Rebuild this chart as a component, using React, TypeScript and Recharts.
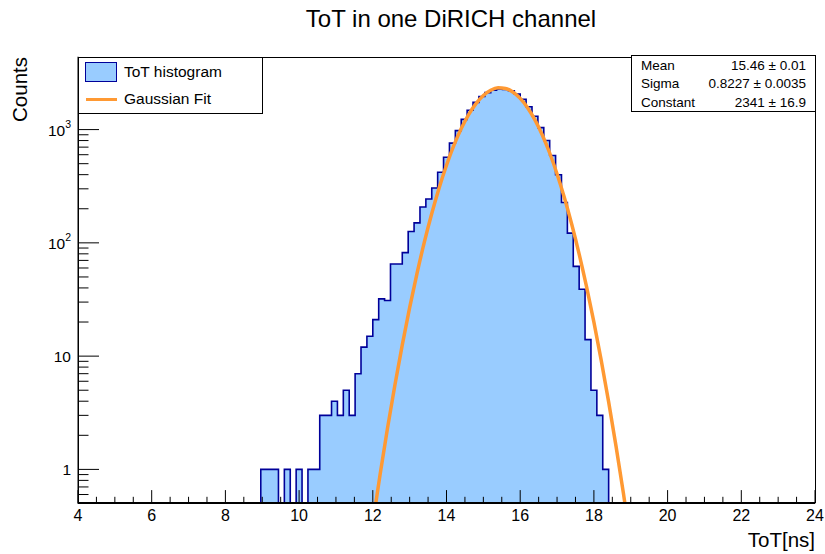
import React, { useLayoutEffect } from 'react';
import { ComposedChart, Area, Line, XAxis, YAxis } from 'recharts';

// ---- data ----
const binStart = 8.96;
const binWidth = 0.16;
const counts = [
  1, 1, 1, 0, 1, 0, 1, 0, 1, 1,
  3, 3, 4, 3, 5, 3, 7, 12, 15, 21,
  32, 31, 65, 65, 82, 126, 150, 207, 244, 305,
  420, 570, 760, 980, 1230, 1480, 1740, 1960, 2120, 2230,
  2280, 2260, 2200, 2060, 1850, 1590, 1310, 1040, 800, 590,
  399, 227, 122, 62, 39, 14, 5, 3, 1,
];

const fitX = [
  12.0, 12.2, 12.4, 12.6, 12.8, 13.0, 13.2, 13.4, 13.6, 13.8,
  14.0, 14.2, 14.4, 14.6, 14.8, 15.0, 15.2, 15.4, 15.6, 15.8,
  16.0, 16.2, 16.4, 16.6, 16.8, 17.0, 17.2, 17.4, 17.6, 17.8,
  18.0, 18.2, 18.4, 18.6, 18.8, 19.0,
];
const fitY = [
  0.337, 0.911, 2.32, 5.56, 12.57, 26.8, 53.8, 101.9, 181.7, 305.7,
  484.8, 724.5, 1020.7, 1355.5, 1697, 2002, 2227, 2335, 2307, 2149,
  1887, 1562, 1219, 896.3, 621.3, 405.9, 250.0, 145.1, 79.5, 41.0,
  19.93, 9.14, 3.95, 1.606, 0.618, 0.223,
];

const xDomain: [number, number] = [4, 24];
const yDomain: [number, number] = [0.5, 4400];
const xMajorTicks = [4, 6, 8, 10, 12, 14, 16, 18, 20, 22, 24];
const yDecadeTicks = [1, 10, 100, 1000];
const yDecadeLabels: Record<number, [string, string]> = {
  1: ['1', ''],
  10: ['10', ''],
  100: ['10', '2'],
  1000: ['10', '3'],
};
const titleText = 'ToT in one DiRICH channel';
const xTitle = 'ToT[ns]';
const yTitle = 'Counts';
const legendItems = ['ToT histogram', 'Gaussian Fit'];
const statRows: [string, string][] = [
  ['Mean', '15.46 \u00b1 0.01'],
  ['Sigma', '0.8227 \u00b1 0.0035'],
  ['Constant', '2341 \u00b1 16.9'],
];

// ---- derived tables ----
const floor = yDomain[0];
const histData: { x: number; y: number }[] = [{ x: xDomain[0], y: floor }];
counts.forEach((c, i) => {
  histData.push({ x: +(binStart + i * binWidth).toFixed(2), y: c > 0 ? c : floor });
});
histData.push({ x: +(binStart + counts.length * binWidth).toFixed(2), y: floor });
histData.push({ x: xDomain[1], y: floor });

const fitData = fitX.map((x, i) => ({ x, y: fitY[i] }));

const xTicks: number[] = [];
for (let v = xDomain[0]; v <= xDomain[1] + 1e-9; v += 0.5) xTicks.push(+v.toFixed(2));
const yTicks: number[] = [0.6, 0.7, 0.8, 0.9];
[1, 10, 100, 1000].forEach((d) => {
  for (let m = 1; m <= 9; m++) {
    const v = d * m;
    if (v <= yDomain[1]) yTicks.push(v);
  }
});

const FONT = '"Liberation Sans", Arial, Helvetica, sans-serif';
const HIST_FILL = '#99ccff';
const HIST_LINE = '#000099';
const FIT_COLOR = '#ff9933';

const W = 817;
const H = 546;
const PLOT_L = 70;
const PLOT_T = 48.7;
const PLOT_W = 737;
const PLOT_H = 446.8;
const XAXIS_H = 30;

const XTick = (props: any) => {
  const { x, y, payload } = props;
  const v = payload.value as number;
  const major = xMajorTicks.includes(v);
  const len = major ? 13.4 : 6.7;
  return (
    <g>
      <line x1={x} x2={x} y1={y} y2={y - len} stroke="#000" strokeWidth={1} />
      {major && (
        <text x={x} y={y + 17} textAnchor="middle" fontSize={16} fontFamily={FONT} fill="#000">
          {v}
        </text>
      )}
    </g>
  );
};

const YTick = (props: any) => {
  const { x, y, payload } = props;
  const v = payload.value as number;
  const major = yDecadeTicks.includes(v);
  const len = major ? 21 : 10.5;
  const lab = yDecadeLabels[v];
  return (
    <g>
      <line x1={x} x2={x + len} y1={y} y2={y} stroke="#000" strokeWidth={1} />
      {major && lab && (
        <text x={x - 7} y={y + 6} textAnchor="end" fontSize={15.5} fontFamily={FONT} fill="#000">
          {lab[0]}
          {lab[1] && (
            <tspan fontSize={10.5} dy={-8}>
              {lab[1]}
            </tspan>
          )}
        </text>
      )}
    </g>
  );
};

export default function App() {
  useLayoutEffect(() => {
    document.body.style.marginRight = '0px';
    document.body.style.marginBottom = '0px';
    const root = document.getElementById('root');
    if (root) {
      root.style.width = W + 'px';
      root.style.height = H + 'px';
    }
  }, []);

  return (
    <div
      style={{
        position: 'relative',
        width: W,
        height: H,
        fontFamily: FONT,
        background: '#fff',
        overflow: 'visible',
      }}
    >
      <ComposedChart
        width={W}
        height={H}
        margin={{
          top: PLOT_T,
          right: W - PLOT_L - PLOT_W,
          bottom: H - PLOT_T - PLOT_H - XAXIS_H,
          left: 0,
        }}
        style={{ overflow: 'visible' }}
      >
        <XAxis
          dataKey="x"
          type="number"
          domain={xDomain}
          allowDataOverflow
          ticks={xTicks}
          interval={0}
          tick={XTick}
          tickLine={false}
          tickSize={0}
          tickMargin={0}
          height={XAXIS_H}
          axisLine={{ stroke: '#000' }}
        />
        <YAxis
          type="number"
          scale="log"
          domain={yDomain}
          allowDataOverflow
          ticks={yTicks}
          interval={0}
          tick={YTick}
          tickLine={false}
          tickSize={0}
          tickMargin={0}
          width={PLOT_L}
          axisLine={{ stroke: '#000' }}
        />
        <Area
          data={histData}
          dataKey="y"
          type="stepAfter"
          stroke={HIST_LINE}
          strokeWidth={1.6}
          fill={HIST_FILL}
          fillOpacity={1}
          dot={false}
          activeDot={false}
          isAnimationActive={false}
        />
        <Line
          data={fitData}
          dataKey="y"
          type="monotone"
          stroke={FIT_COLOR}
          strokeWidth={3.5}
          dot={false}
          activeDot={false}
          isAnimationActive={false}
        />
      </ComposedChart>

      {/* plot frame */}
      <div
        style={{
          position: 'absolute',
          left: PLOT_L,
          top: PLOT_T,
          width: PLOT_W + 1,
          height: PLOT_H,
          border: '1px solid #000',
          boxSizing: 'border-box',
          pointerEvents: 'none',
        }}
      />

      {/* title */}
      <div
        style={{
          position: 'absolute',
          left: 143,
          width: 600,
          top: -3,
          textAlign: 'center',
          fontSize: 24,
          lineHeight: '28px',
          color: '#000',
          whiteSpace: 'nowrap',
        }}
      >
        {titleText}
      </div>

      {/* x title */}
      <div
        style={{
          position: 'absolute',
          right: W - (PLOT_L + PLOT_W),
          top: 520,
          fontSize: 20.5,
          lineHeight: '24px',
          whiteSpace: 'nowrap',
        }}
      >
        {xTitle}
      </div>

      {/* y title */}
      <div
        style={{
          position: 'absolute',
          left: 0,
          top: PLOT_T,
          width: 24,
          height: 68,
        }}
      >
        <div
          style={{
            position: 'absolute',
            right: 0,
            top: 0,
            transformOrigin: 'right top',
            transform: 'translate(-24px, 0) rotate(-90deg)',
            fontSize: 20.5,
            lineHeight: '24px',
            whiteSpace: 'nowrap',
          }}
        >
          {yTitle}
        </div>
      </div>

      {/* legend */}
      <div
        style={{
          position: 'absolute',
          left: PLOT_L,
          top: PLOT_T,
          width: 185,
          height: 57,
          border: '1px solid #000',
          boxSizing: 'border-box',
          background: '#fff',
          fontSize: 15.5,
        }}
      >
        <div
          style={{
            position: 'absolute',
            left: 6,
            top: 4,
            width: 32,
            height: 20,
            background: HIST_FILL,
            border: `1.5px solid ${HIST_LINE}`,
            boxSizing: 'border-box',
          }}
        />
        <div style={{ position: 'absolute', left: 45, top: 4, lineHeight: '20px' }}>{legendItems[0]}</div>
        <div
          style={{
            position: 'absolute',
            left: 7,
            top: 40,
            width: 31,
            height: 3,
            background: FIT_COLOR,
          }}
        />
        <div style={{ position: 'absolute', left: 45, top: 31, lineHeight: '20px' }}>{legendItems[1]}</div>
      </div>

      {/* stats box */}
      <div
        style={{
          position: 'absolute',
          left: 623,
          top: 47,
          width: 185,
          height: 57,
          border: '1px solid #000',
          boxSizing: 'border-box',
          background: '#fff',
          fontSize: 13.5,
        }}
      >
        {statRows.map((r, i) => (
          <div
            key={r[0]}
            style={{
              position: 'absolute',
              left: 9,
              right: 9,
              top: 2 + i * 18.3,
              lineHeight: '16px',
              display: 'flex',
              justifyContent: 'space-between',
            }}
          >
            <span>{r[0]}</span>
            <span>{r[1]}</span>
          </div>
        ))}
      </div>
    </div>
  );
}
